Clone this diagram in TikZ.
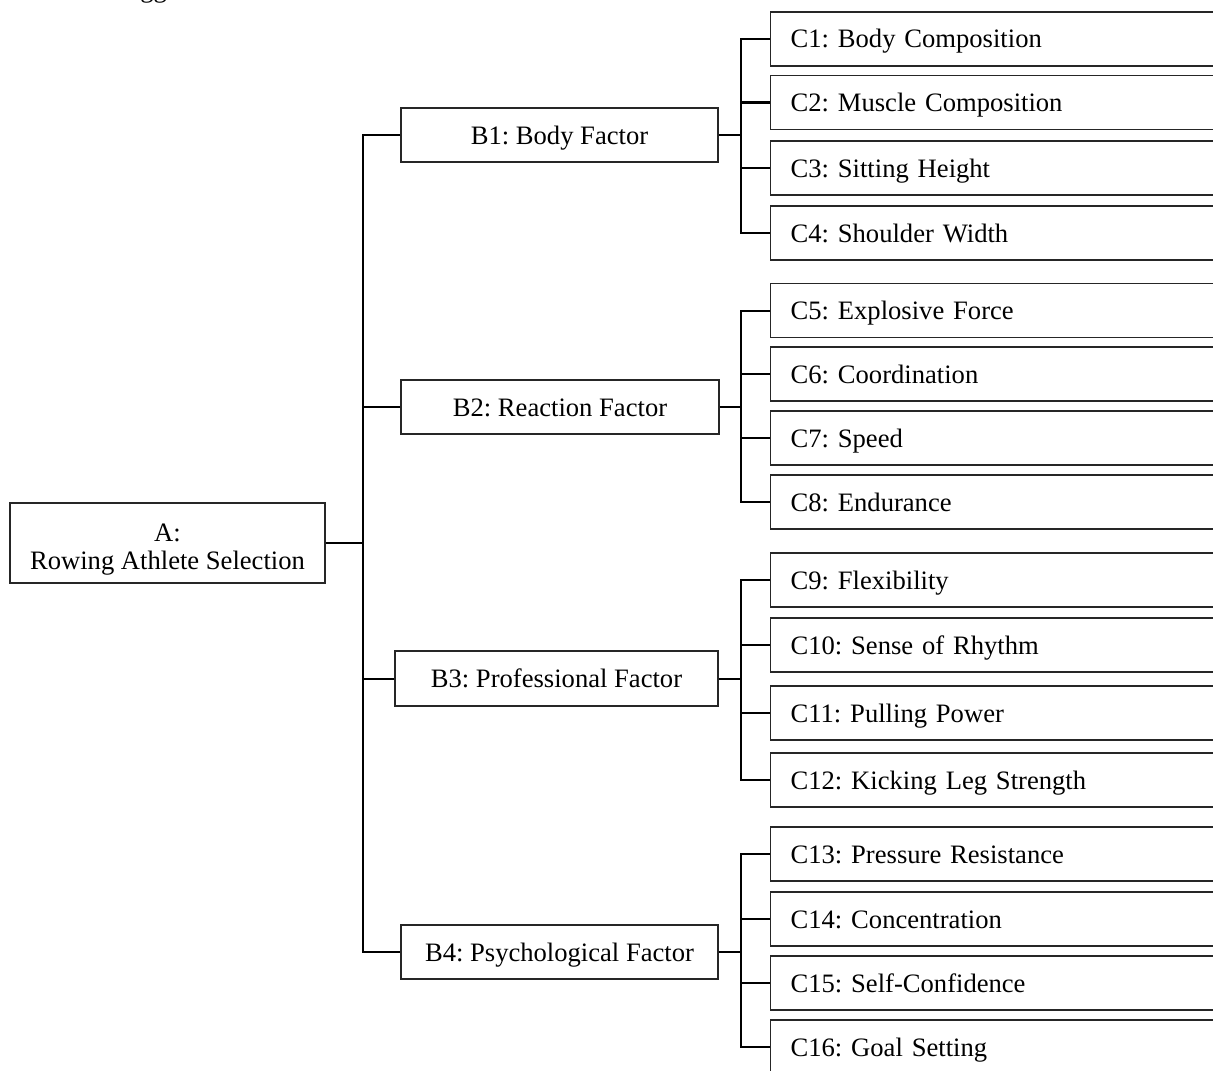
\documentclass[tikz,border=0pt]{standalone}
\usepackage{fontspec}
\setmainfont{Liberation Serif}
\frenchspacing
\begin{document}
\begin{tikzpicture}[x=0.5pt,y=-0.5pt,
  font=\fontsize{13.3}{14}\selectfont,
  box/.style={draw=black!85,line width=0.6pt,inner sep=0pt,align=center},
  bbox/.style={box,minimum height=27pt,text height=9pt,text depth=0pt},
  cbox/.style={draw=black!85,line width=0.6pt,anchor=west,minimum height=27pt,
    text width=225pt,inner xsep=10pt,inner ysep=0pt,align=left,text height=9pt,text depth=0pt},
  conn/.style={line width=1pt,black}]
\clip (0,0) rectangle (1213,1070);
\fill[white] (0,0) rectangle (1213,1070);
\node[anchor=base west,inner sep=0pt] (frag) at (140,-2) {gg};
\node[draw=black!85,line width=0.6pt,inner sep=0pt,minimum width=157.5pt,minimum height=40pt,
  text height=10pt,text depth=12pt] (A) at (167.5,543)
  {\parbox[t]{150pt}{\centering A:\\Rowing Athlete Selection}};
\node[bbox,minimum width=158.5pt] (B1) at (559.5,135) {B1: Body Factor};
\node[bbox,minimum width=159pt] (B2) at (560,407) {B2: Reaction Factor};
\node[bbox,minimum width=161.5pt,minimum height=27.5pt] (B3) at (556.5,678.5) {B3: Professional Factor};
\node[bbox,minimum width=158.5pt] (B4) at (559.5,952) {B4: Psychological Factor};
\foreach \n/\y/\t in {1/39/Body Composition,2/102.5/Muscle Composition,3/168/Sitting Height,4/233/Shoulder Width,
  5/310.5/Explosive Force,6/374/Coordination,7/438/Speed,8/502/Endurance,
  9/580/Flexibility,10/645/Sense of Rhythm,11/713/Pulling Power,12/780/Kicking Leg Strength,
  13/854/Pressure Resistance,14/919/Concentration,15/983/Self-Confidence,16/1047/Goal Setting}
  \node[cbox] (C\n) at (770,\y) {C\n: \t};
\coordinate (t) at (363,0);
\coordinate (g) at (741,0);
\draw[conn] (A.east) -- (A.east -| t);
\draw[conn] (B1.west) -- (B1.west -| t) -- (B4.west -| t) -- (B4.west);
\draw[conn] (B2.west) -- (B2.west -| t);
\draw[conn] (B3.west) -- (B3.west -| t);
\foreach \b/\i/\j/\k/\l in {1/1/2/3/4,2/5/6/7/8,3/9/10/11/12,4/13/14/15/16}{
  \draw[conn] (B\b.east) -- (B\b.east -| g);
  \draw[conn] (C\i.west) -- (C\i.west -| g) -- (C\l.west -| g) -- (C\l.west);
  \draw[conn] (C\j.west) -- (C\j.west -| g);
  \draw[conn] (C\k.west) -- (C\k.west -| g);
}
\end{tikzpicture}
\end{document}
